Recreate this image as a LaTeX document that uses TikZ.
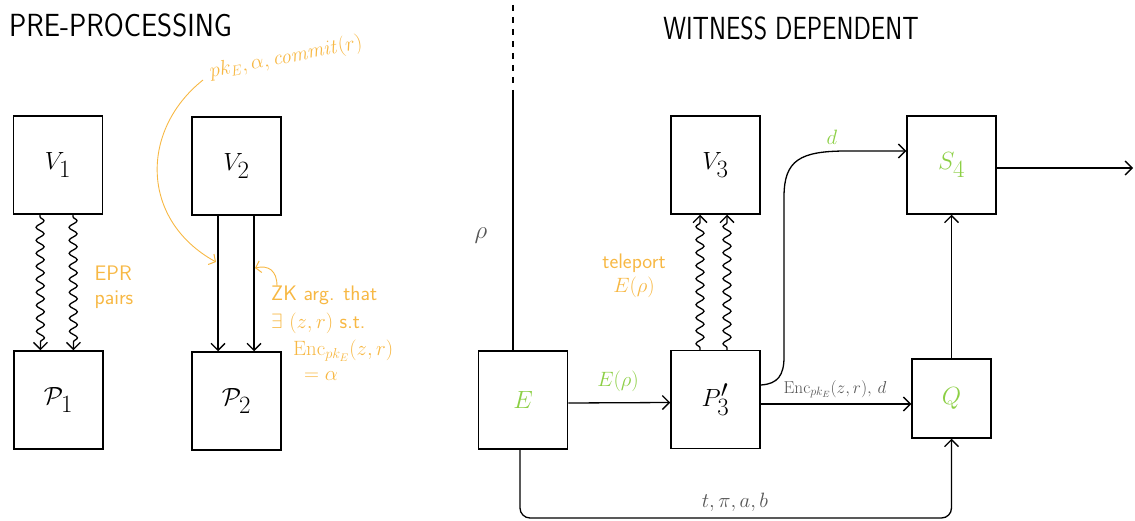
\documentclass[tikz,border=0pt]{standalone}
\usetikzlibrary{arrows.meta,decorations.pathmorphing}
\definecolor{orng}{HTML}{F7B844}
\definecolor{grn}{HTML}{8CCF45}
\definecolor{gry}{HTML}{555555}
\begin{document}
\begin{tikzpicture}[x=1pt,y=-1pt,
  box/.style={draw,line width=1.5pt,minimum width=89pt,minimum height=98pt,inner sep=0pt,font=\fontsize{34}{38}\selectfont},
  gbox/.style={box,text=grn,font=\fontsize{44}{48}\selectfont},
  tip/.style={-{Straight Barb[length=7pt,width=14pt,line width=1.3pt]}},
  con/.style={line width=1.3pt,tip},
  ocon/.style={line width=0.9pt,orng,-{Straight Barb[length=5pt,width=12pt,line width=1pt]}},
  wavy/.style={line width=1.3pt,tip,decorate,decoration={snake,amplitude=4pt,segment length=13pt,pre length=2pt,post length=7pt}},
  ttl/.style={font=\sffamily\fontsize{32}{36}\selectfont},
  olab/.style={text=orng,font=\sffamily\fontsize{21}{24}\selectfont,inner sep=1pt},
  glab/.style={text=gry,font=\sffamily\fontsize{18}{21}\selectfont,inner sep=1pt},
  grlab/.style={text=grn,font=\sffamily\fontsize{21}{24}\selectfont,inner sep=1pt}
]
\useasboundingbox (0,0) rectangle (1135,521);
% titles
\node[ttl,anchor=west,xscale=0.9] (t1) at (6,25) {PRE-PROCESSING};
\node[ttl,xscale=0.8] (t2) at (791,28) {WITNESS DEPENDENT};
% boxes
\node[box] (V1) at (58,165) {$V_1$};
\node[box] (P1) at (58.5,400) {$\mathcal{P}_1$};
\node[box] (V2) at (236.5,166) {$V_2$};
\node[box] (P2) at (236.5,401) {$\mathcal{P}_2$};
\node[gbox] (E) at (523,400) {$E$};
\node[box] (P3) at (715.5,399.5) {$P_3'$};
\node[box] (V3) at (715.5,165) {$V_3$};
\node[gbox] (S4) at (951.5,165) {$S_4$};
\node[gbox,minimum width=79pt,minimum height=79pt] (Q) at (951.5,398.5) {$Q$};
% pre-processing connectors
\draw[wavy] ([xshift=-18pt]V1.south) -- ([xshift=-18pt]P1.north);
\draw[wavy] ([xshift=15pt]V1.south) -- ([xshift=15pt]P1.north);
\draw[con] ([xshift=-18.5pt]V2.south) -- ([xshift=-18.5pt]P2.north);
\draw[con] ([xshift=17.5pt]V2.south) -- ([xshift=17.5pt]P2.north);
\node[olab,align=left] (epr) at (114,287) {EPR\\pairs};
\node[olab,rotate=11,font=\sffamily\fontsize{22}{24}\selectfont] (pk) at (286,58) {$pk_E,\alpha,\mathit{commit}(r)$};
\node[olab,anchor=west] (zk1) at (270,295) {ZK arg. that};
\node[olab,anchor=west] (zk2) at (270,323) {$\exists$ $(z,r)$ s.t.};
\node[olab,anchor=west] (zk3) at (292,351) {$\mathrm{Enc}_{pk_E}(z,r)$};
\node[olab,anchor=west] (zk4) at (303,376) {$=\alpha$};
\coordinate (c1) at (203,80);
\coordinate (c1e) at (216,262);
\draw[ocon] (c1) .. controls (140,130) and (140,220) .. (c1e);
\coordinate (c2) at (277,286);
\coordinate (c2e) at (255,268);
\draw[ocon] (c2) .. controls (277,270) and (268,265) .. (c2e);
% separator
\coordinate (d0) at (513,5);
\coordinate (d1) at (513,84);
\coordinate (d2) at (513,90);
\draw[line width=1.2pt,dash pattern=on 6pt off 6pt] (d0) -- (d1);
\draw[line width=1.3pt] (d2) -- (E.north -| d2);
\node[text=gry,font=\fontsize{26}{28}\selectfont] (rho) at (481,236) {$\rho$};
% witness dependent connectors
\draw[con] ([yshift=-3pt]E.east) -- ([yshift=-3pt]P3.west);
\node[grlab] (erho) at (618,381) {$E(\rho)$};
\node[olab,align=center] (tel) at (634,276) {teleport\\$E(\rho)$};
\draw[wavy] ([xshift=-15.5pt]P3.north) -- ([xshift=-15.5pt]V3.south);
\draw[wavy] ([xshift=11.5pt]P3.north) -- ([xshift=11.5pt]V3.south);
\draw[con] ([yshift=-4.5pt]P3.east) -- ([yshift=-4.5pt]P3.east -| Q.west);
\node[glab] (enc) at (835,389) {$\mathrm{Enc}_{pk_E}(z,r),\,d$};
\draw[con] ([yshift=14.5pt]P3.east) .. controls (778,384) and (784,375) .. (784,357)
  -- (784,197) .. controls (784,160) and (800,151) .. (847,151) -- ([yshift=14pt]S4.west);
\node[grlab] (dlab) at (832,137) {$d$};
\draw[con] (Q.north) -- (S4.south);
\coordinate (out) at (1133,168);
\draw[con] (S4.east |- out) -- (out);
\coordinate (qb) at (951.5,518);
\draw[con,rounded corners=10pt] ([xshift=-3pt]E.south) |- (qb) -- (Q.south);
\node[glab,font=\sffamily\fontsize{20}{22}\selectfont] (tpab) at (735,502) {$t,\pi,a,b$};
\end{tikzpicture}
\end{document}
